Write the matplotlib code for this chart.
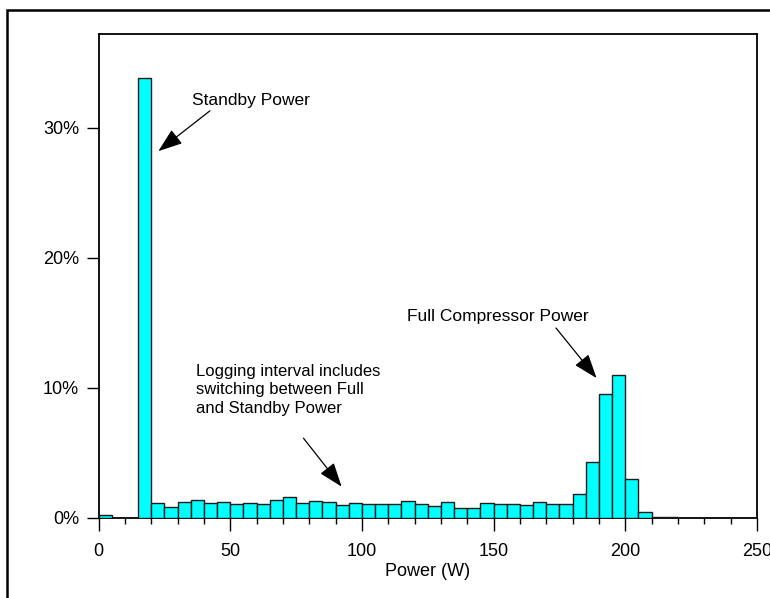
import matplotlib
matplotlib.use("Agg")
import matplotlib.pyplot as plt
from matplotlib.patches import Rectangle
from matplotlib.ticker import MultipleLocator, FuncFormatter
import numpy as np

plt.rcParams["font.family"] = ["Liberation Sans", "DejaVu Sans"]

# histogram bins: 5 W wide, 0..250 W
bin_edges = list(range(0, 255, 5))
# share of logged intervals per bin (%)
shares = [
    0.2, 0.0, 0.0, 33.8, 1.15, 0.87, 1.2, 1.38, 1.15, 1.2,
    1.05, 1.12, 1.08, 1.38, 1.62, 1.18, 1.3, 1.22, 1.0, 1.18,
    1.08, 1.05, 1.05, 1.3, 1.1, 0.9, 1.23, 0.77, 0.77, 1.12,
    1.1, 1.1, 1.0, 1.25, 1.08, 1.1, 1.85, 4.3, 9.5, 10.97,
    3.0, 0.43, 0.08, 0.08, 0.0, 0.0, 0.0, 0.0, 0.0, 0.0,
]
y_ticks = [0, 10, 20, 30]

fig = plt.figure(figsize=(7.7, 5.98), dpi=100)
ax = fig.add_axes([0.128, 0.134, 0.855, 0.809])

left = np.array(bin_edges[:-1])
ax.bar(left, shares, width=5, align="edge", color="#00FFFF",
       edgecolor="#1a1a1a", linewidth=1.0, zorder=3)

ax.set_xlim(0, 250)
ax.set_ylim(0, 37.2)
ax.xaxis.set_major_locator(MultipleLocator(50))
ax.xaxis.set_minor_locator(MultipleLocator(10))
ax.set_yticks(y_ticks)
ax.yaxis.set_major_formatter(FuncFormatter(lambda v, p: f"{v:.0f}%"))
ax.tick_params(axis="x", which="major", length=9, width=1, pad=9, labelsize=13)
ax.tick_params(axis="x", which="minor", length=4.5, width=1)
ax.tick_params(axis="y", which="major", length=9, width=1, pad=5, labelsize=13)
for s in ax.spines.values():
    s.set_linewidth(1.3)
ax.set_xlabel("Power (W)", fontsize=13, labelpad=2)

arrow = dict(arrowstyle="-|>,head_length=0.75,head_width=0.27",
             mutation_scale=20, color="black", lw=0.9, shrinkA=0, shrinkB=0)

ax.annotate("", xy=(22.7, 28.2), xytext=(42.3, 31.3), arrowprops=arrow)
ax.text(35.4, 32.1, "Standby Power", fontsize=12.5, va="center", ha="left")

ax.annotate("", xy=(189.1, 10.75), xytext=(173.7, 14.6), arrowprops=arrow)
ax.text(117.1, 15.5, "Full Compressor Power", fontsize=12.5, va="center", ha="left")

ax.annotate("", xy=(92.3, 2.4), xytext=(77.8, 6.13), arrowprops=arrow)
ax.text(37.0, 9.85, "Logging interval includes\nswitching between Full\nand Standby Power",
        fontsize=12, va="center", ha="left", linespacing=1.3)

# outer frame around the whole chart
fig.patches.append(Rectangle((7 / 770, -0.05), 1.1, 1 - 10 / 598 + 0.05,
                             transform=fig.transFigure, fill=False,
                             edgecolor="black", linewidth=1.8))

fig.savefig("out.png", dpi=100)
